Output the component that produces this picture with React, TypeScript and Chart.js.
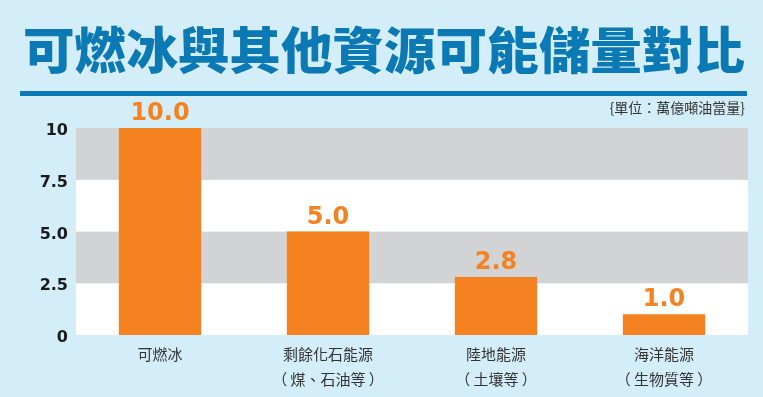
import React, { useEffect, useRef } from "react";
import { Chart, registerables } from "chart.js";

Chart.register(...registerables);

const titleText = "可燃冰與其他資源可能儲量對比";
const unitText = "{單位：萬億噸油當量}";
const categories: string[][] = [
  ["可燃冰"],
  ["剩餘化石能源", "（ 煤、石油等 ）"],
  ["陸地能源", "（ 土壤等 ）"],
  ["海洋能源", "（ 生物質等 ）"],
];
const values: number[] = [10.0, 5.0, 2.8, 1.0];
const valueLabels: string[] = ["10.0", "5.0", "2.8", "1.0"];
const yTickValues: number[] = [0, 2.5, 5, 7.5, 10];
const yTickLabels: string[] = ["0", "2.5", "5.0", "7.5", "10"];

const BG = "#d4eef9";
const BLUE = "#0b79b4";
const ORANGE = "#f58220";
const GRAY = "#d1d3d4";
const CJK = "'Noto Sans CJK TC', 'Noto Sans CJK SC', sans-serif";

const decorPlugin = {
  id: "decor",
  beforeDraw(chart: any) {
    const { ctx, width, height } = chart;
    ctx.save();
    ctx.fillStyle = BG;
    ctx.fillRect(0, 0, width, height);
    // title
    ctx.font = `900 50px ${CJK}`;
    ctx.fillStyle = BLUE;
    ctx.textBaseline = "middle";
    ctx.textAlign = "center";
    const w = ctx.measureText(titleText).width;
    const target = 722;
    ctx.translate(384, 50);
    ctx.scale(target / w, 1);
    ctx.fillText(titleText, 0, 0);
    ctx.restore();
    ctx.save();
    ctx.fillStyle = BLUE;
    ctx.fillRect(20, 91, 727, 5);
    ctx.font = `14px ${CJK}`;
    ctx.fillStyle = "#333333";
    ctx.textAlign = "right";
    ctx.textBaseline = "middle";
    ctx.fillText(unitText, 745, 108);
    ctx.restore();
  },
  beforeDatasetsDraw(chart: any) {
    const { ctx, chartArea } = chart;
    const y = chart.scales.y;
    ctx.save();
    for (let i = 0; i < yTickValues.length - 1; i++) {
      const top = y.getPixelForValue(yTickValues[i + 1]);
      const bottom = y.getPixelForValue(yTickValues[i]);
      ctx.fillStyle = i % 2 === 1 ? GRAY : "#ffffff";
      ctx.fillRect(chartArea.left, top, chartArea.right - chartArea.left, bottom - top);
    }
    ctx.restore();
  },
  afterDatasetsDraw(chart: any) {
    const { ctx } = chart;
    const meta = chart.getDatasetMeta(0);
    ctx.save();
    ctx.font = "bold 24px 'DejaVu Sans', sans-serif";
    ctx.fillStyle = ORANGE;
    ctx.textAlign = "center";
    ctx.textBaseline = "alphabetic";
    meta.data.forEach((bar: any, i: number) => {
      ctx.fillText(valueLabels[i], bar.x, bar.y - 8);
    });
    ctx.restore();
  },
};

export default function App() {
  const ref = useRef<HTMLCanvasElement | null>(null);
  useEffect(() => {
    document.body.style.margin = "0";
    const canvas = ref.current!;
    const chart = new Chart(canvas, {
      type: "bar",
      data: {
        labels: categories,
        datasets: [
          {
            data: values,
            backgroundColor: ORANGE,
            barPercentage: 0.49,
            categoryPercentage: 1,
            borderWidth: 0,
          },
        ],
      },
      options: {
        responsive: false,
        animation: false,
        layout: { padding: { top: 128, right: 15, left: 0, bottom: 0 } },
        plugins: {
          legend: { display: false },
          tooltip: { enabled: false },
          title: { display: false },
        },
        scales: {
          x: {
            grid: { display: false, drawTicks: false },
            border: { display: false },
            ticks: {
              padding: 7,
              color: "#333333",
              font: { family: CJK, size: 15, lineHeight: 1.67 },
              maxRotation: 0,
              autoSkip: false,
            },
            afterFit(scale: any) {
              scale.height = 62;
            },
          },
          y: {
            min: 0,
            max: 10,
            grid: { display: false, drawTicks: false },
            border: { display: false },
            afterBuildTicks(scale: any) {
              scale.ticks = yTickValues.map((v) => ({ value: v }));
            },
            ticks: {
              padding: 8,
              labelOffset: 3,
              color: "#1a1a1a",
              font: { family: "'DejaVu Sans', sans-serif", size: 16, weight: "bold" },
              callback: (_v: any, i: number) => yTickLabels[i],
            },
            afterFit(scale: any) {
              scale.width = 76;
            },
          },
        },
      },
      plugins: [decorPlugin],
    } as any);
    return () => chart.destroy();
  }, []);
  return (
    <canvas ref={ref} width={763} height={397} style={{ display: "block", width: 763, height: 397 }} />
  );
}
